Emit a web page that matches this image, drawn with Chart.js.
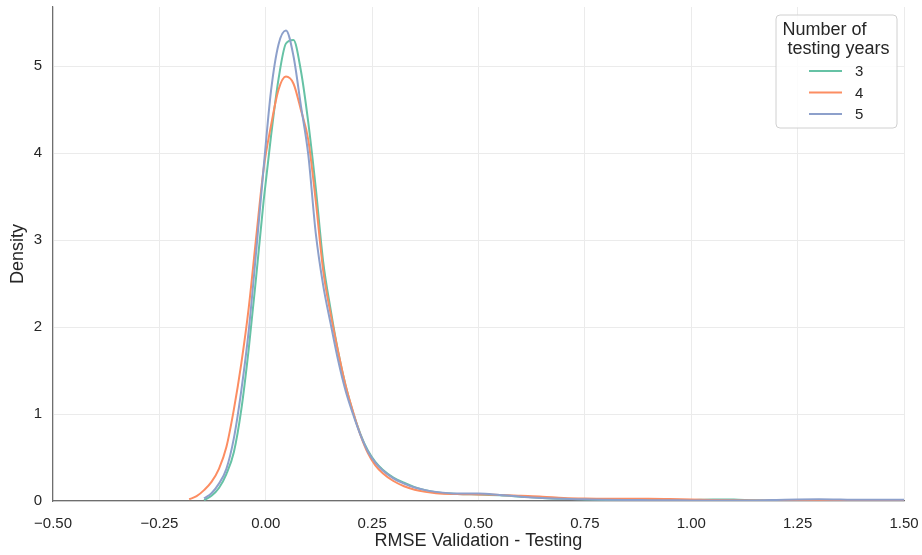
<!DOCTYPE html>
<html>
<head>
<meta charset="utf-8">
<script src="https://cdn.jsdelivr.net/npm/chart.js@4/dist/chart.umd.min.js"></script>
<style>
  html, body { margin: 0; padding: 0; background: #ffffff; }
  #wrap { width: 922px; height: 555px; position: relative; }
</style>
</head>
<body>
<div id="wrap"><canvas id="c" width="922" height="555"></canvas></div>
<script>
// ---- data ----
const xGrid = [
  -0.18, -0.1625, -0.145, -0.1275, -0.11, -0.0925, -0.075, -0.0575, -0.04, -0.0225,
  -0.005, 0.0125, 0.03, 0.0475, 0.065, 0.0825, 0.10, 0.1175, 0.135, 0.1525,
  0.17, 0.1875, 0.205, 0.2225, 0.24, 0.2575, 0.275, 0.30, 0.325, 0.35,
  0.375, 0.40, 0.45, 0.50, 0.55, 0.60, 0.65, 0.70, 0.75, 0.80,
  0.85, 0.90, 0.95, 1.00, 1.05, 1.10, 1.15, 1.20, 1.25, 1.30,
  1.35, 1.40, 1.45, 1.50
];
const density3 = [
  null, null, 0.01, 0.06, 0.15, 0.31, 0.56, 1.05, 1.75, 2.58,
  3.45, 4.20, 4.85, 5.26, 5.30, 4.95, 4.35, 3.60, 2.75, 2.20,
  1.72, 1.33, 1.02, 0.77, 0.58, 0.45, 0.36, 0.27, 0.21, 0.16,
  0.125, 0.10, 0.08, 0.075, 0.065, 0.05, 0.035, 0.025, 0.018, 0.012,
  0.010, 0.010, 0.010, 0.012, 0.018, 0.016, 0.008, 0.005, 0.005, 0.006,
  0.007, 0.008, 0.010, 0.010
];
const density4 = [
  0.02, 0.055, 0.125, 0.22, 0.37, 0.62, 1.05, 1.58, 2.22, 3.03,
  3.82, 4.32, 4.73, 4.88, 4.80, 4.50, 4.15, 3.45, 2.65, 2.15,
  1.72, 1.33, 1.03, 0.76, 0.55, 0.41, 0.32, 0.23, 0.17, 0.13,
  0.105, 0.09, 0.08, 0.075, 0.07, 0.06, 0.05, 0.035, 0.028, 0.025,
  0.025, 0.025, 0.022, 0.018, 0.012, 0.008, 0.006, 0.006, 0.008, 0.010,
  0.010, 0.009, 0.008, 0.008
];
const density5 = [
  null, null, 0.03, 0.09, 0.20, 0.37, 0.72, 1.27, 1.96, 2.87,
  3.83, 4.72, 5.25, 5.41, 5.12, 4.55, 3.98, 3.08, 2.48, 2.04,
  1.62, 1.27, 1.00, 0.76, 0.57, 0.44, 0.35, 0.26, 0.20, 0.155,
  0.125, 0.105, 0.085, 0.085, 0.07, 0.05, 0.035, 0.025, 0.02, 0.015,
  0.012, 0.010, 0.008, 0.006, 0.005, 0.005, 0.007, 0.012, 0.018, 0.020,
  0.017, 0.014, 0.015, 0.013
];
const seriesLabels = ['3', '4', '5'];
const seriesColors = ['#66c2a5', '#fc8d62', '#8da0cb'];
const xTickValues = [-0.5, -0.25, 0, 0.25, 0.5, 0.75, 1.0, 1.25, 1.5];
const yTickValues = [0, 1, 2, 3, 4, 5];
const legendTitle = ['Number of', ' testing years'];
const xTitle = 'RMSE Validation - Testing';
const yTitle = 'Density';

// ---- build chart ----
const FONT = '"Liberation Sans", Arial, "DejaVu Sans", sans-serif';
const allSeries = [density3, density4, density5];

const datasets = allSeries.map((ys, i) => ({
  label: seriesLabels[i],
  data: xGrid.map((x, k) => ({ x: x, y: ys[k] })),
  borderColor: seriesColors[i],
  backgroundColor: seriesColors[i],
  borderWidth: 2,
  pointRadius: 0,
  fill: false,
  spanGaps: false,
  cubicInterpolationMode: 'monotone',
  order: 3 - i
}));

const legendPlugin = {
  id: 'boxLegend',
  afterDraw(chart) {
    const ctx = chart.ctx;
    const bx = 776, by = 15, bw = 121, bh = 113, r = 4;
    ctx.save();
    ctx.beginPath();
    ctx.moveTo(bx + r, by);
    ctx.lineTo(bx + bw - r, by);
    ctx.arcTo(bx + bw, by, bx + bw, by + r, r);
    ctx.lineTo(bx + bw, by + bh - r);
    ctx.arcTo(bx + bw, by + bh, bx + bw - r, by + bh, r);
    ctx.lineTo(bx + r, by + bh);
    ctx.arcTo(bx, by + bh, bx, by + bh - r, r);
    ctx.lineTo(bx, by + r);
    ctx.arcTo(bx, by, bx + r, by, r);
    ctx.closePath();
    ctx.fillStyle = 'rgba(255,255,255,0.85)';
    ctx.fill();
    ctx.strokeStyle = '#d0d0d0';
    ctx.lineWidth = 1;
    ctx.stroke();

    ctx.fillStyle = '#262626';
    ctx.font = '18px ' + FONT;
    ctx.textAlign = 'left';
    ctx.textBaseline = 'alphabetic';
    ctx.fillText(legendTitle[0], 782.5, 34.5);
    ctx.fillText(legendTitle[1], 782.5, 54);

    ctx.font = '15px ' + FONT;
    ctx.textBaseline = 'middle';
    chart.data.datasets.forEach((ds, i) => {
      const y = 71 + i * 21.5;
      ctx.strokeStyle = ds.borderColor;
      ctx.lineWidth = 2;
      ctx.beginPath();
      ctx.moveTo(809, y);
      ctx.lineTo(842, y);
      ctx.stroke();
      ctx.fillStyle = '#262626';
      ctx.fillText(ds.label, 855, y + 1);
    });
    ctx.restore();
  }
};

const fmtX = v => (v < 0 ? '\u2212' + Math.abs(v).toFixed(2) : v.toFixed(2));

new Chart(document.getElementById('c'), {
  type: 'line',
  data: { datasets: datasets },
  options: {
    responsive: false,
    animation: false,
    devicePixelRatio: 1,
    layout: { padding: { left: 0, top: 7, right: 18, bottom: 0 } },
    plugins: {
      legend: { display: false },
      tooltip: { enabled: false }
    },
    scales: {
      x: {
        type: 'linear',
        min: -0.5,
        max: 1.5,
        afterBuildTicks: s => { s.ticks = xTickValues.map(v => ({ value: v })); },
        afterFit: s => { s.height = 54; s.paddingLeft = 0; s.paddingRight = 0; },
        grid: { color: '#ebebeb', lineWidth: 1, drawTicks: false },
        border: { display: true, color: '#6e6e6e', width: 1.2 },
        ticks: {
          padding: 14,
          color: '#262626',
          font: { family: FONT, size: 15 },
          maxRotation: 0,
          autoSkip: false,
          callback: v => fmtX(v)
        },
        title: {
          display: true,
          text: xTitle,
          color: '#262626',
          font: { family: FONT, size: 18 },
          padding: { top: 0, bottom: 3 }
        }
      },
      y: {
        type: 'linear',
        min: 0,
        max: 5.68,
        afterBuildTicks: s => { s.ticks = yTickValues.map(v => ({ value: v })); },
        afterFit: s => { s.width = 53; s.paddingTop = 0; s.paddingBottom = 0; },
        grid: { color: '#ebebeb', lineWidth: 1, drawTicks: false },
        border: { display: true, color: '#6e6e6e', width: 1.2 },
        ticks: {
          padding: 11,
          color: '#262626',
          font: { family: FONT, size: 15 },
          callback: v => String(v)
        },
        title: {
          display: true,
          text: yTitle,
          color: '#262626',
          font: { family: FONT, size: 18 },
          padding: { top: 7, bottom: 0 }
        }
      }
    }
  },
  plugins: [legendPlugin]
});
</script>
</body>
</html>
